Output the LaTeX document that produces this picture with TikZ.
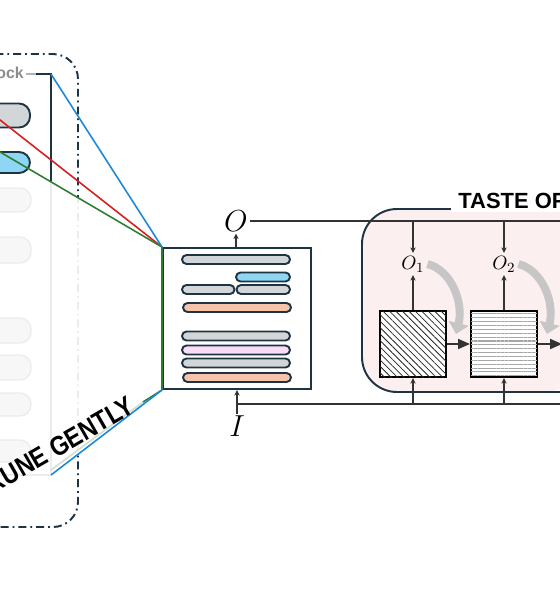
\documentclass[tikz,border=0pt]{standalone}
\usepackage{fontspec}
\newfontfamily\labfont{Liberation Sans}
\usetikzlibrary{arrows.meta,patterns.meta}
\definecolor{navy}{HTML}{1F3443}
\definecolor{pillgray}{HTML}{D3D6D8}
\definecolor{pillblue}{HTML}{8FD6F5}
\definecolor{pillpeach}{HTML}{F5C4AA}
\definecolor{pillpink}{HTML}{F9DDF7}
\definecolor{lineblue}{HTML}{1E88D8}
\definecolor{linered}{HTML}{D81E1E}
\definecolor{linegreen}{HTML}{2E7D32}
\definecolor{lightgreen}{HTML}{CFE0CF}
\definecolor{pinkbg}{HTML}{FCEFEF}
\definecolor{curvegray}{HTML}{C6C6C6}
\definecolor{faint}{HTML}{ECECEC}
\tikzset{
  pill/.style={draw=navy, line width=1.1pt, rounded corners=0.09cm},
  bigpill/.style={draw=navy, line width=1.1pt, rounded corners=0.22cm},
  faintpill/.style={draw=faint, fill=white!97!black, line width=0.8pt, rounded corners=0.22cm},
  conn/.style={line width=0.6pt, draw=black!80},
  conarr/.style={conn, -{Stealth[length=3.2pt,width=3pt]}},
  bigarr/.style={conn, -{Triangle[length=6.8pt,width=5.8pt]}},
  colline/.style={line width=0.9pt},
  grayarc/.style={draw=curvegray, line width=4.5pt, -{Triangle[length=0.22cm,width=0.4cm]}},
  dashdot/.style={line width=1.1pt, dash pattern=on 4.5pt off 2.3pt on 1pt off 2.3pt, rounded corners=0.5cm},
  hatchbox/.style={draw=black, line width=1.2pt, minimum width=1.32cm, minimum height=1.32cm, inner sep=0pt, preaction={fill=white}},
  biglabel/.style={font=\labfont\bfseries\fontsize{12.5}{14}\selectfont, text=black},
  mathlabel/.style={font=\fontsize{16}{18}\selectfont, inner sep=1pt},
  smalllabel/.style={font=\fontsize{11}{12}\selectfont, inner sep=1.5pt}
}
\begin{document}
\begin{tikzpicture}[x=0.02cm,y=-0.02cm]
\useasboundingbox (0,0) rectangle (560,600);
\clip (0,0) rectangle (560,600);

% ---------- left block (partly visible) ----------
\draw[dashdot, draw=faint] (-40,54) -- (78,54) -- (78,527) -- (-40,527);
\begin{scope}
  \clip (-50,0) rectangle (120,197) (-50,453) rectangle (120,600);
  \draw[dashdot, draw=navy] (-40,54) -- (78,54) -- (78,527) -- (-40,527);
\end{scope}
% inner block frame
\draw[draw=faint, line width=1pt] (51,181) -- (51,475) -- (-10,475);
\draw[draw=black!30, line width=1.1pt] (26,74) -- (37,74);
\draw[draw=navy, line width=1.1pt] (36,74) -- (51,74) -- (51,181);
\node[font=\labfont\bfseries\fontsize{9}{10}\selectfont, text=black!45, anchor=base east, inner sep=0pt] (blk) at (24,78) {ock};
% pills of the block
\draw[bigpill, fill=pillgray] (-30,103.5) rectangle (30,127.5);
\draw[bigpill, fill=pillblue] (-30,152) rectangle (30,173);
\foreach \a/\b in {188/212, 237/263, 318/343, 355/380, 393/416, 440/462}
  \draw[faintpill] (-30,\a) rectangle (31,\b);

% ---------- middle box ----------
\node[draw=navy, line width=1.1pt, minimum width=2.96cm, minimum height=2.82cm, inner sep=0pt] (mid) at (237,318.5) {};
\draw[pill, fill=pillgray] (182,255) rectangle (290,264);
\draw[pill, fill=pillblue] (236,272.5) rectangle (290,281.5);
\draw[pill, fill=pillgray] (182,285) rectangle (234.5,294);
\draw[pill, fill=pillgray] (236.5,285) rectangle (290,294);
\draw[pill, fill=pillpeach] (183,303) rectangle (291,312);
\draw[pill, fill=pillgray] (182,331.5) rectangle (290,340.5);
\draw[pill, fill=pillpink] (182,345.5) rectangle (290,354.5);
\draw[pill, fill=pillgray] (182,358.5) rectangle (290,367.5);
\draw[pill, fill=pillpeach] (183,373) rectangle (291,382);

% ---------- coloured connectors ----------
\coordinate (blkTR) at (51,74);
\coordinate (blkBR) at (51,475);
\coordinate (redS) at (-5,116);
\coordinate (greenS) at (-5,149);
\coordinate (gMid) at (143,402);
\coordinate (gEnd) at (51,470);
\draw[colline, lightgreen] (gMid) -- (gEnd);
\draw[colline, linered] (redS) -- (mid.north west);
\draw[colline, linegreen] (greenS) -- (mid.north west);
\draw[colline, lineblue] (blkTR) -- (mid.north west);
\draw[colline, linegreen] (mid.north west) -- (mid.south west);
\draw[colline, linegreen] (mid.south west) -- (gMid);
\draw[colline, lineblue] (mid.south west) -- (blkBR);
\node[font=\labfont\bfseries\fontsize{15.5}{17}\selectfont, rotate=30, xscale=0.86, inner sep=0pt] (prune) at (60,445) {RUNE GENTLY};

% ---------- O and I ----------
\node[mathlabel] (O) at (236,221) {$O$};
\node[mathlabel] (I) at (237,426) {$I$};
\coordinate (oR) at (570,221);
\coordinate (iR) at (570,404);
\coordinate (iJ) at (237,404);

% ---------- right region ----------
\fill[pinkbg, rounded corners=0.7cm] (580,209) -- (362,209) -- (362,392) -- (580,392) -- cycle;
\draw[navy, line width=1.1pt, rounded corners=0.7cm] (580,209) -- (362,209) -- (362,392) -- (580,392);
\node[biglabel, fill=white, anchor=base west, inner xsep=4pt, inner ysep=2pt] (taste) at (451,208) {TASTE OF};

\draw[conarr] (mid.north -| O) -- (O.south);
\draw[conn] (O.east) -- (oR);
\draw[conarr] (I.north) -- (mid.south -| I);
\draw[conn] (iJ) -- (iR);

\node[smalllabel] (O1) at (413,264) {$O_1$};
\node[smalllabel] (O2) at (504,264) {$O_2$};
\coordinate (c1) at (456,334);
\coordinate (c2) at (547,334);
\draw[grayarc] (O1.east) .. controls (451,270) and (464,302) .. (c1);
\draw[grayarc] (O2.east) .. controls (542,270) and (555,302) .. (c2);

\node[hatchbox, postaction={pattern={Lines[angle=-45,distance=2.6pt,line width=0.45pt]}, pattern color=black!85}] (box1) at (413,344) {};
\node[hatchbox, postaction={pattern={Lines[angle=0,distance=2.2pt,line width=0.6pt]}, pattern color=black!35}] (box2) at (504,344) {};
\coordinate (b3) at (562,344);

\draw[conarr] (O1 |- oR) -- (O1.north);
\draw[conarr] (O2 |- oR) -- (O2.north);
\draw[conarr] (box1.north) -- (O1.south);
\draw[conarr] (box2.north) -- (O2.south);
\draw[conarr] (box1 |- iR) -- (box1.south);
\draw[conarr] (box2 |- iR) -- (box2.south);
\draw[bigarr] (box1.east) -- (box2.west);
\draw[bigarr] (box2.east) -- (b3);
\end{tikzpicture}
\end{document}
